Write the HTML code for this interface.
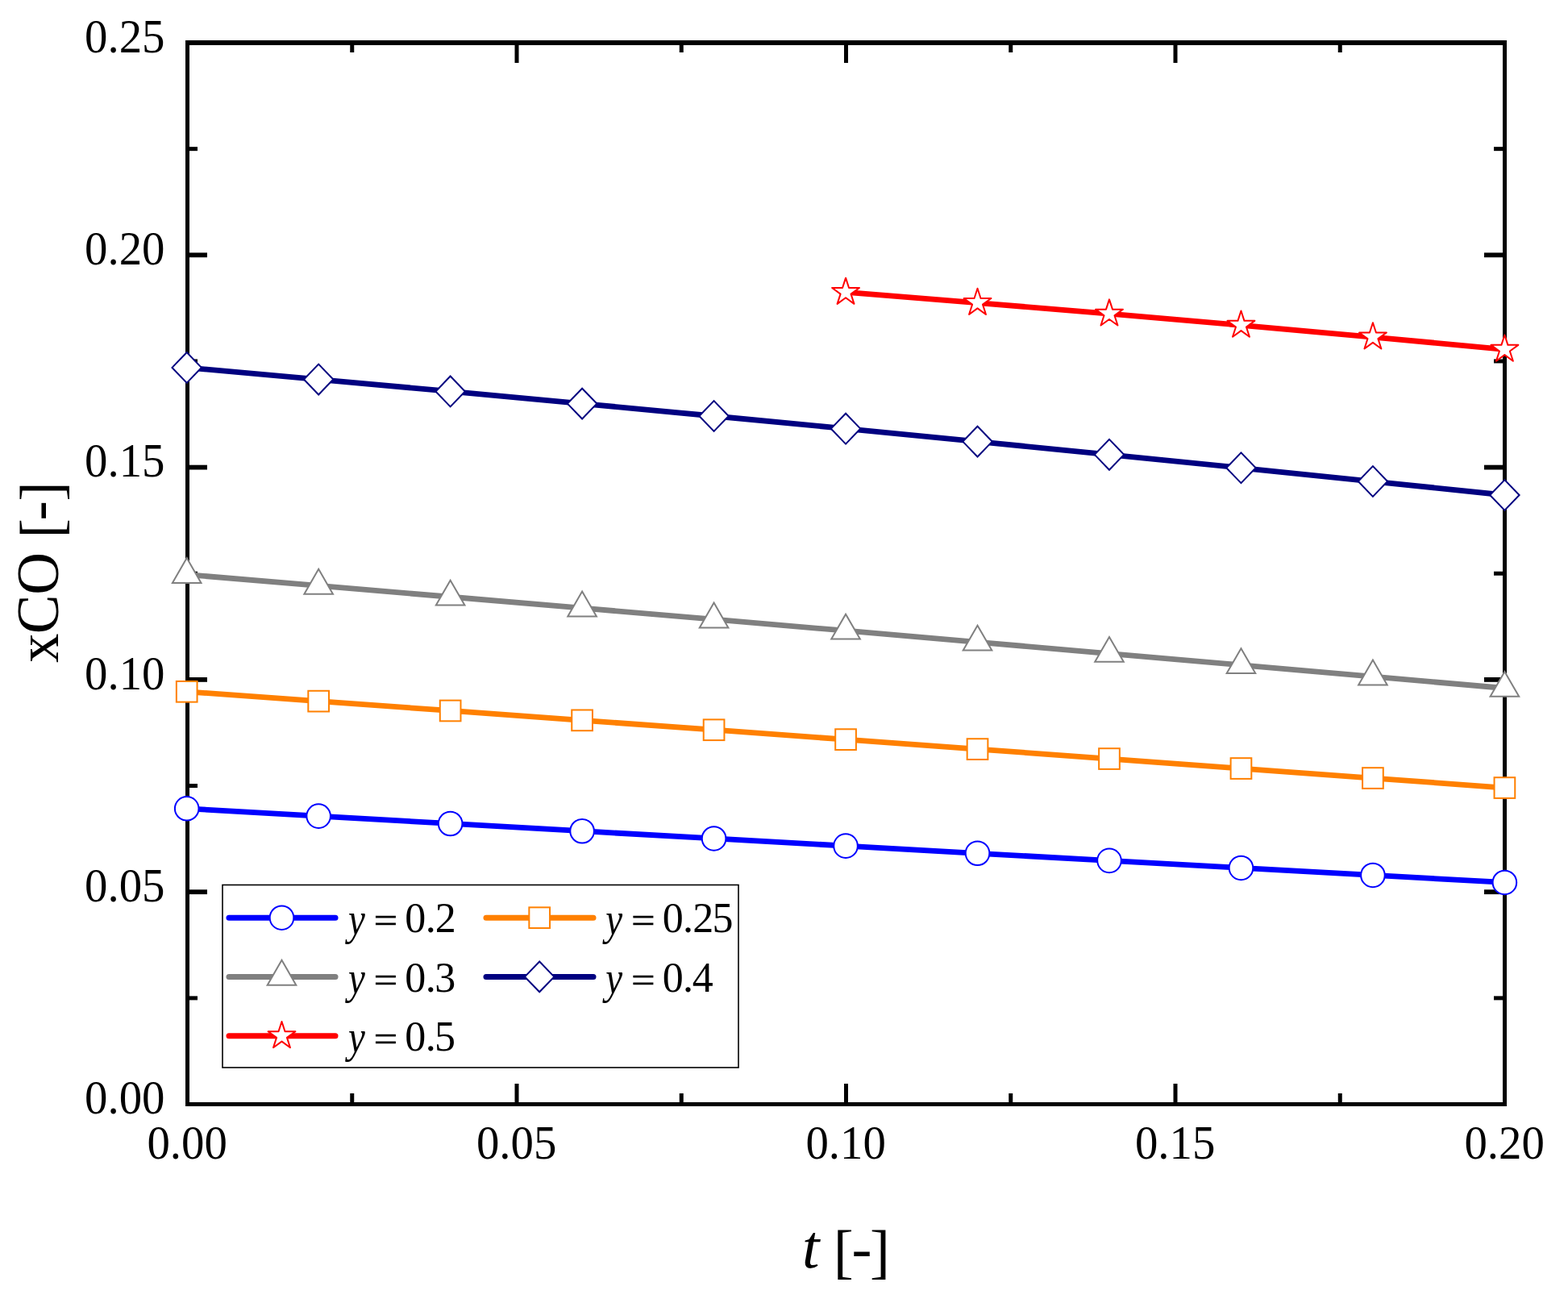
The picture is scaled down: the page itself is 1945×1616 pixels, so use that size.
<!DOCTYPE html>
<html><head><meta charset="utf-8"><title>xCO vs t</title>
<style>
html,body{margin:0;padding:0;background:#fff;}
body{width:1945px;height:1616px;overflow:hidden;}
svg{display:block;}
text{font-family:"Liberation Serif","DejaVu Serif",serif;fill:#000;}
</style></head><body>
<svg width="1945" height="1616" viewBox="0 0 1945 1616">
<rect x="0" y="0" width="1945" height="1616" fill="#fff"/>
<g fill="#000">
<rect x="230" y="50" width="1639" height="6"/>
<rect x="230" y="1367" width="1639" height="5"/>
<rect x="230" y="50" width="5" height="1322"/>
<rect x="1864" y="50" width="5" height="1322"/>
<rect x="434.25" y="1356" width="5" height="16"/>
<rect x="434.25" y="50" width="5" height="15"/>
<rect x="638.5" y="1344" width="5" height="28"/>
<rect x="638.5" y="50" width="5" height="28"/>
<rect x="842.75" y="1356" width="5" height="16"/>
<rect x="842.75" y="50" width="5" height="15"/>
<rect x="1047" y="1344" width="5" height="28"/>
<rect x="1047" y="50" width="5" height="28"/>
<rect x="1251.25" y="1356" width="5" height="16"/>
<rect x="1251.25" y="50" width="5" height="15"/>
<rect x="1455.5" y="1344" width="5" height="28"/>
<rect x="1455.5" y="50" width="5" height="28"/>
<rect x="1659.75" y="1356" width="5" height="16"/>
<rect x="1659.75" y="50" width="5" height="15"/>
<rect x="230" y="182.15" width="15" height="5"/>
<rect x="1853" y="182.15" width="16" height="5"/>
<rect x="230" y="313.4" width="27" height="5.8"/>
<rect x="1841" y="313.4" width="28" height="5.8"/>
<rect x="230" y="445.45" width="15" height="5"/>
<rect x="1853" y="445.45" width="16" height="5"/>
<rect x="230" y="576.7" width="27" height="5.8"/>
<rect x="1841" y="576.7" width="28" height="5.8"/>
<rect x="230" y="708.75" width="15" height="5"/>
<rect x="1853" y="708.75" width="16" height="5"/>
<rect x="230" y="840" width="27" height="5.8"/>
<rect x="1841" y="840" width="28" height="5.8"/>
<rect x="230" y="972.05" width="15" height="5"/>
<rect x="1853" y="972.05" width="16" height="5"/>
<rect x="230" y="1103.3" width="27" height="5.8"/>
<rect x="1841" y="1103.3" width="28" height="5.8"/>
<rect x="230" y="1235.35" width="15" height="5"/>
<rect x="1853" y="1235.35" width="16" height="5"/>
</g>
<g font-size="58.5">
<text x="204.5" y="64.7" text-anchor="end" textLength="99.5" lengthAdjust="spacingAndGlyphs">0.25</text>
<text x="204.5" y="328" text-anchor="end" textLength="99.5" lengthAdjust="spacingAndGlyphs">0.20</text>
<text x="204.5" y="591.3" text-anchor="end" textLength="99.5" lengthAdjust="spacingAndGlyphs">0.15</text>
<text x="204.5" y="854.6" text-anchor="end" textLength="99.5" lengthAdjust="spacingAndGlyphs">0.10</text>
<text x="204.5" y="1117.9" text-anchor="end" textLength="99.5" lengthAdjust="spacingAndGlyphs">0.05</text>
<text x="204.5" y="1381.2" text-anchor="end" textLength="99.5" lengthAdjust="spacingAndGlyphs">0.00</text>
<text x="232.2" y="1436.8" text-anchor="middle" textLength="99.5" lengthAdjust="spacingAndGlyphs">0.00</text>
<text x="640.7" y="1436.8" text-anchor="middle" textLength="99.5" lengthAdjust="spacingAndGlyphs">0.05</text>
<text x="1049.2" y="1436.8" text-anchor="middle" textLength="99.5" lengthAdjust="spacingAndGlyphs">0.10</text>
<text x="1457.7" y="1436.8" text-anchor="middle" textLength="99.5" lengthAdjust="spacingAndGlyphs">0.15</text>
<text x="1866.2" y="1436.8" text-anchor="middle" textLength="99.5" lengthAdjust="spacingAndGlyphs">0.20</text>
</g>
<text transform="translate(72.2,0) rotate(-90)" font-size="73" y="0" x="-821.93 -786.28 -737.76 -700 -667.44 -645.59 -621.86" dy="0 0 0 0 3.5 -3.5 3.5">xCO [-]</text>
<text font-size="75"><tspan x="995.09" y="1572" font-size="77" font-style="italic">t</tspan><tspan x="1017.09" y="1576.75"> </tspan><tspan x="1033.78" y="1576.75">[</tspan><tspan x="1056.58" y="1573.1">-</tspan><tspan x="1078.94" y="1576.75">]</tspan></text>
<polyline points="231.7,1002.82 395.17,1012.16 558.64,1021.46 722.11,1030.73 885.58,1039.95 1049.05,1049.13 1212.52,1058.27 1375.99,1067.37 1539.46,1076.43 1702.93,1085.45 1866.4,1094.43" fill="none" stroke="#0000ff" stroke-width="6.8" stroke-linejoin="round"/>
<polyline points="231.7,857.79 395.17,869.62 558.64,881.47 722.11,893.34 885.58,905.23 1049.05,917.15 1212.52,929.09 1375.99,941.05 1539.46,953.04 1702.93,965.04 1866.4,977.07" fill="none" stroke="#ff8000" stroke-width="6.8" stroke-linejoin="round"/>
<polyline points="231.7,712.63 395.17,726.41 558.64,740.26 722.11,754.18 885.58,768.16 1049.05,782.21 1212.52,796.33 1375.99,810.52 1539.46,824.78 1702.93,839.1 1866.4,853.5" fill="none" stroke="#808080" stroke-width="6.8" stroke-linejoin="round"/>
<polyline points="231.7,455.92 395.17,470.54 558.64,485.44 722.11,500.59 885.58,516 1049.05,531.68 1212.52,547.62 1375.99,563.82 1539.46,580.28 1702.93,597.01 1866.4,614" fill="none" stroke="#000080" stroke-width="6.8" stroke-linejoin="round"/>
<polyline points="1049.05,362.46 1212.52,375.54 1375.99,389.16 1539.46,403.34 1702.93,418.06 1866.4,433.34" fill="none" stroke="#ff0000" stroke-width="6.8" stroke-linejoin="round"/>
<circle cx="231.7" cy="1002.82" r="14.8" fill="#fff" stroke="#0000ff" stroke-width="2"/>
<circle cx="395.17" cy="1012.16" r="14.8" fill="#fff" stroke="#0000ff" stroke-width="2"/>
<circle cx="558.64" cy="1021.46" r="14.8" fill="#fff" stroke="#0000ff" stroke-width="2"/>
<circle cx="722.11" cy="1030.73" r="14.8" fill="#fff" stroke="#0000ff" stroke-width="2"/>
<circle cx="885.58" cy="1039.95" r="14.8" fill="#fff" stroke="#0000ff" stroke-width="2"/>
<circle cx="1049.05" cy="1049.13" r="14.8" fill="#fff" stroke="#0000ff" stroke-width="2"/>
<circle cx="1212.52" cy="1058.27" r="14.8" fill="#fff" stroke="#0000ff" stroke-width="2"/>
<circle cx="1375.99" cy="1067.37" r="14.8" fill="#fff" stroke="#0000ff" stroke-width="2"/>
<circle cx="1539.46" cy="1076.43" r="14.8" fill="#fff" stroke="#0000ff" stroke-width="2"/>
<circle cx="1702.93" cy="1085.45" r="14.8" fill="#fff" stroke="#0000ff" stroke-width="2"/>
<circle cx="1866.4" cy="1094.43" r="14.8" fill="#fff" stroke="#0000ff" stroke-width="2"/>
<rect x="218.85" y="844.94" width="25.7" height="25.7" fill="#fff" stroke="#ff8000" stroke-width="2"/>
<rect x="382.32" y="856.77" width="25.7" height="25.7" fill="#fff" stroke="#ff8000" stroke-width="2"/>
<rect x="545.79" y="868.62" width="25.7" height="25.7" fill="#fff" stroke="#ff8000" stroke-width="2"/>
<rect x="709.26" y="880.49" width="25.7" height="25.7" fill="#fff" stroke="#ff8000" stroke-width="2"/>
<rect x="872.73" y="892.38" width="25.7" height="25.7" fill="#fff" stroke="#ff8000" stroke-width="2"/>
<rect x="1036.2" y="904.3" width="25.7" height="25.7" fill="#fff" stroke="#ff8000" stroke-width="2"/>
<rect x="1199.67" y="916.24" width="25.7" height="25.7" fill="#fff" stroke="#ff8000" stroke-width="2"/>
<rect x="1363.14" y="928.2" width="25.7" height="25.7" fill="#fff" stroke="#ff8000" stroke-width="2"/>
<rect x="1526.61" y="940.19" width="25.7" height="25.7" fill="#fff" stroke="#ff8000" stroke-width="2"/>
<rect x="1690.08" y="952.19" width="25.7" height="25.7" fill="#fff" stroke="#ff8000" stroke-width="2"/>
<rect x="1853.55" y="964.22" width="25.7" height="25.7" fill="#fff" stroke="#ff8000" stroke-width="2"/>
<polygon points="231.7,692.08 249.5,722.91 213.9,722.91" fill="#fff" stroke="#808080" stroke-width="2"/>
<polygon points="395.17,705.86 412.97,736.69 377.37,736.69" fill="#fff" stroke="#808080" stroke-width="2"/>
<polygon points="558.64,719.71 576.44,750.54 540.84,750.54" fill="#fff" stroke="#808080" stroke-width="2"/>
<polygon points="722.11,733.62 739.91,764.45 704.31,764.45" fill="#fff" stroke="#808080" stroke-width="2"/>
<polygon points="885.58,747.61 903.38,778.44 867.78,778.44" fill="#fff" stroke="#808080" stroke-width="2"/>
<polygon points="1049.05,761.66 1066.85,792.49 1031.25,792.49" fill="#fff" stroke="#808080" stroke-width="2"/>
<polygon points="1212.52,775.78 1230.32,806.61 1194.72,806.61" fill="#fff" stroke="#808080" stroke-width="2"/>
<polygon points="1375.99,789.97 1393.79,820.8 1358.19,820.8" fill="#fff" stroke="#808080" stroke-width="2"/>
<polygon points="1539.46,804.23 1557.26,835.06 1521.66,835.06" fill="#fff" stroke="#808080" stroke-width="2"/>
<polygon points="1702.93,818.55 1720.73,849.38 1685.13,849.38" fill="#fff" stroke="#808080" stroke-width="2"/>
<polygon points="1866.4,832.94 1884.2,863.78 1848.6,863.78" fill="#fff" stroke="#808080" stroke-width="2"/>
<polygon points="231.7,437.02 249.9,455.92 231.7,474.82 213.5,455.92" fill="#fff" stroke="#000080" stroke-width="2"/>
<polygon points="395.17,451.64 413.37,470.54 395.17,489.44 376.97,470.54" fill="#fff" stroke="#000080" stroke-width="2"/>
<polygon points="558.64,466.54 576.84,485.44 558.64,504.34 540.44,485.44" fill="#fff" stroke="#000080" stroke-width="2"/>
<polygon points="722.11,481.69 740.31,500.59 722.11,519.49 703.91,500.59" fill="#fff" stroke="#000080" stroke-width="2"/>
<polygon points="885.58,497.1 903.78,516 885.58,534.9 867.38,516" fill="#fff" stroke="#000080" stroke-width="2"/>
<polygon points="1049.05,512.78 1067.25,531.68 1049.05,550.58 1030.85,531.68" fill="#fff" stroke="#000080" stroke-width="2"/>
<polygon points="1212.52,528.72 1230.72,547.62 1212.52,566.52 1194.32,547.62" fill="#fff" stroke="#000080" stroke-width="2"/>
<polygon points="1375.99,544.92 1394.19,563.82 1375.99,582.72 1357.79,563.82" fill="#fff" stroke="#000080" stroke-width="2"/>
<polygon points="1539.46,561.38 1557.66,580.28 1539.46,599.18 1521.26,580.28" fill="#fff" stroke="#000080" stroke-width="2"/>
<polygon points="1702.93,578.11 1721.13,597.01 1702.93,615.91 1684.73,597.01" fill="#fff" stroke="#000080" stroke-width="2"/>
<polygon points="1866.4,595.1 1884.6,614 1866.4,632.9 1848.2,614" fill="#fff" stroke="#000080" stroke-width="2"/>
<polygon points="1049.05,344.66 1053.05,356.96 1065.98,356.96 1055.52,364.57 1059.51,376.86 1049.05,369.26 1038.59,376.86 1042.58,364.57 1032.12,356.96 1045.05,356.96" fill="#fff" stroke="#ff0000" stroke-width="2" stroke-linejoin="round"/>
<polygon points="1212.52,357.74 1216.52,370.04 1229.45,370.04 1218.99,377.64 1222.98,389.94 1212.52,382.34 1202.06,389.94 1206.05,377.64 1195.59,370.04 1208.52,370.04" fill="#fff" stroke="#ff0000" stroke-width="2" stroke-linejoin="round"/>
<polygon points="1375.99,371.36 1379.99,383.66 1392.92,383.66 1382.46,391.26 1386.45,403.56 1375.99,395.96 1365.53,403.56 1369.52,391.26 1359.06,383.66 1371.99,383.66" fill="#fff" stroke="#ff0000" stroke-width="2" stroke-linejoin="round"/>
<polygon points="1539.46,385.54 1543.46,397.84 1556.39,397.84 1545.93,405.44 1549.92,417.74 1539.46,410.14 1529,417.74 1532.99,405.44 1522.53,397.84 1535.46,397.84" fill="#fff" stroke="#ff0000" stroke-width="2" stroke-linejoin="round"/>
<polygon points="1702.93,400.26 1706.93,412.56 1719.86,412.56 1709.4,420.16 1713.39,432.46 1702.93,424.86 1692.47,432.46 1696.46,420.16 1686,412.56 1698.93,412.56" fill="#fff" stroke="#ff0000" stroke-width="2" stroke-linejoin="round"/>
<polygon points="1866.4,415.54 1870.4,427.83 1883.33,427.84 1872.87,435.44 1876.86,447.74 1866.4,440.14 1855.94,447.74 1859.93,435.44 1849.47,427.84 1862.4,427.83" fill="#fff" stroke="#ff0000" stroke-width="2" stroke-linejoin="round"/>
<rect x="276" y="1097.5" width="640" height="226.5" fill="#fff" stroke="#000" stroke-width="1.6"/>
<line x1="284" y1="1138.2" x2="416" y2="1138.2" stroke="#0000ff" stroke-width="7" stroke-linecap="round"/>
<circle cx="349.5" cy="1138.2" r="14.8" fill="#fff" stroke="#0000ff" stroke-width="2"/>
<text font-size="52" y="1156.2"><tspan x="431.92" y="1158.5" font-size="56.5" font-style="italic" textLength="20.85" lengthAdjust="spacingAndGlyphs">y</tspan><tspan x="451.76" y="1156.2"> </tspan><tspan x="463.81" y="1154.9" font-size="42" stroke="#000" stroke-width="0.7" textLength="29.23" lengthAdjust="spacingAndGlyphs">=</tspan><tspan x="493.76"> </tspan><tspan x="502.35 527.7 539.79" y="1156.2">0.2</tspan></text>
<line x1="603" y1="1138.2" x2="736" y2="1138.2" stroke="#ff8000" stroke-width="7" stroke-linecap="round"/>
<rect x="656.35" y="1125.35" width="25.7" height="25.7" fill="#fff" stroke="#ff8000" stroke-width="2"/>
<text font-size="52" y="1156.2"><tspan x="751.32" y="1158.5" font-size="56.5" font-style="italic" textLength="20.85" lengthAdjust="spacingAndGlyphs">y</tspan><tspan x="771.16" y="1156.2"> </tspan><tspan x="783.21" y="1154.9" font-size="42" stroke="#000" stroke-width="0.7" textLength="29.23" lengthAdjust="spacingAndGlyphs">=</tspan><tspan x="813.16"> </tspan><tspan x="821.75 847.1 859.19 883.4" y="1156.2">0.25</tspan></text>
<line x1="284" y1="1211.4" x2="416" y2="1211.4" stroke="#808080" stroke-width="7" stroke-linecap="round"/>
<polygon points="349.5,1190.85 367.3,1221.68 331.7,1221.68" fill="#fff" stroke="#808080" stroke-width="2"/>
<text font-size="52" y="1230"><tspan x="431.92" y="1232.3" font-size="56.5" font-style="italic" textLength="20.85" lengthAdjust="spacingAndGlyphs">y</tspan><tspan x="451.76" y="1230"> </tspan><tspan x="463.81" y="1228.7" font-size="42" stroke="#000" stroke-width="0.7" textLength="29.23" lengthAdjust="spacingAndGlyphs">=</tspan><tspan x="493.76"> </tspan><tspan x="502.35 527.7 539.27" y="1230">0.3</tspan></text>
<line x1="603" y1="1211.4" x2="736" y2="1211.4" stroke="#000080" stroke-width="7" stroke-linecap="round"/>
<polygon points="669.2,1192.5 687.4,1211.4 669.2,1230.3 651,1211.4" fill="#fff" stroke="#000080" stroke-width="2"/>
<text font-size="52" y="1230"><tspan x="751.32" y="1232.3" font-size="56.5" font-style="italic" textLength="20.85" lengthAdjust="spacingAndGlyphs">y</tspan><tspan x="771.16" y="1230"> </tspan><tspan x="783.21" y="1228.7" font-size="42" stroke="#000" stroke-width="0.7" textLength="29.23" lengthAdjust="spacingAndGlyphs">=</tspan><tspan x="813.16"> </tspan><tspan x="821.75 847.1 858.8" y="1230">0.4</tspan></text>
<line x1="284" y1="1284.8" x2="416" y2="1284.8" stroke="#ff0000" stroke-width="7" stroke-linecap="round"/>
<polygon points="349.5,1267 353.5,1279.3 366.43,1279.3 355.97,1286.9 359.96,1299.2 349.5,1291.6 339.04,1299.2 343.03,1286.9 332.57,1279.3 345.5,1279.3" fill="#fff" stroke="#ff0000" stroke-width="2" stroke-linejoin="round"/>
<text font-size="52" y="1303.1"><tspan x="431.92" y="1305.4" font-size="56.5" font-style="italic" textLength="20.85" lengthAdjust="spacingAndGlyphs">y</tspan><tspan x="451.76" y="1303.1"> </tspan><tspan x="463.81" y="1301.8" font-size="42" stroke="#000" stroke-width="0.7" textLength="29.23" lengthAdjust="spacingAndGlyphs">=</tspan><tspan x="493.76"> </tspan><tspan x="502.35 527.7 539" y="1303.1">0.5</tspan></text>
</svg>
</body></html>
